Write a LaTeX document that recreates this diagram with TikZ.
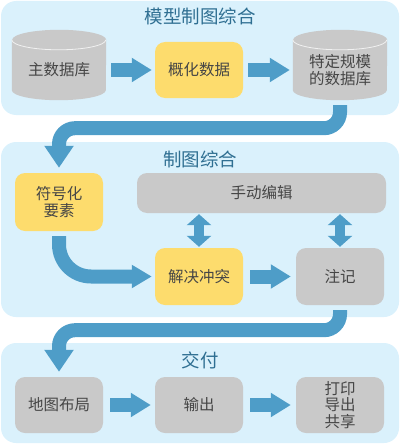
\documentclass[tikz,border=0pt]{standalone}
\usepackage{fontspec}
\setmainfont{Noto Sans CJK SC}
\usetikzlibrary{arrows.meta,calc}
\definecolor{panelblue}{HTML}{DAF1FC}
\definecolor{flowblue}{HTML}{4E9DC8}
\definecolor{boxgray}{HTML}{C9C9C9}
\definecolor{boxyellow}{HTML}{FDDC6D}
\definecolor{titleblue}{HTML}{2F6F92}
\definecolor{textgray}{HTML}{464646}
\newcommand{\dbbody}[1]{%
  \fill[boxgray] (#1.north west) -- ($(#1.south west)+(0,-10)$)
    arc[start angle=180,end angle=0,x radius=47,y radius=10]
    -- (#1.north east)
    arc[start angle=0,end angle=-180,x radius=47,y radius=10] -- cycle;
  \draw[white!75!boxgray, thick] (#1.north west)
    arc[start angle=180,end angle=0,x radius=47,y radius=10];
}

\begin{document}
\begin{tikzpicture}[x=1pt, y=-1pt,
  panel/.style={fill=panelblue, rounded corners=15pt},
  title/.style={text=titleblue, font=\fontsize{18.5}{20}\selectfont},
  box/.style={rounded corners=10pt, minimum width=88pt, minimum height=57pt,
    inner sep=0pt, align=center, text=textgray,
    font=\fontsize{15.5}{16.5}\selectfont},
  graybox/.style={box, fill=boxgray},
  yellowbox/.style={box, fill=boxyellow},
  dbnode/.style={box, minimum width=94pt, minimum height=60pt, rounded corners=0pt},
  flow/.style={draw=flowblue, line width=14pt, shorten <=5pt, shorten >=3pt,
    -{Triangle[width=23pt,length=20pt]}},
  curveflow/.style={draw=flowblue, line width=14pt, rounded corners=16pt,
    shorten <=5pt, shorten >=5pt, -{Triangle[width=28pt,length=22pt]}},
  twoway/.style={draw=flowblue, line width=10pt, shorten <=1pt, shorten >=1pt,
    {Triangle[width=24pt,length=11pt]}-{Triangle[width=24pt,length=11pt]}}]
\useasboundingbox (0,0) rectangle (400,444);

% panels
\fill[panel] (1,1) rectangle (399,115);
\fill[panel] (1,142) rectangle (399,317);
\fill[panel] (1,343) rectangle (399,443);

\node[title] (t1) at (200,16) {模型制图综合};
\node[title] (t2) at (200,159) {制图综合};
\node[title] (t3) at (200,360) {交付};

% first row
\coordinate (dbpos) at (59,70);
\coordinate (sdbpos) at (340,70);
\node[dbnode] (db) at (dbpos) {};
\node[dbnode] (sdb) at (sdbpos) {};
\dbbody{db}
\dbbody{sdb}
\node[box] (dbtext) at (db.center) {主数据库};
\node[box] (sdbtext) at (sdb.center) {特定规模\\的数据库};
\node[yellowbox, minimum height=56pt] (gen) at (199,70) {概化数据};

\draw[flow] (db.east |- gen.center) -- (gen.west);
\draw[flow] (gen.east) -- (sdb.west |- gen.center);

% second row
\node[yellowbox, minimum height=58pt] (sym) at (59,202) {符号化\\要素};
\node[graybox, minimum width=249pt, minimum height=40pt] (edit) at (261.5,193) {手动编辑};
\node[yellowbox] (resolve) at (199,276.5) {解决冲突};
\node[graybox] (anno) at (340,276.5) {注记};

\draw[curveflow] (sdb.south) -- ++(0,28) -| (sym.north);
\draw[curveflow, rounded corners=32pt, -{Triangle[width=22pt,length=20pt]}, shorten >=3pt]
  (sym.south) |- (resolve.west);
\draw[flow, shorten <=7pt, shorten >=5pt] (resolve.east) -- (anno.west);
\draw[twoway] (edit.south -| resolve.north) -- (resolve.north);
\draw[twoway] (edit.south -| anno.north) -- (anno.north);

% third row
\node[graybox, minimum height=56pt] (layout) at (59,405) {地图布局};
\node[graybox, minimum height=56pt] (output) at (199,405) {输出};
\node[graybox, minimum height=56pt] (share) at (340,405) {打印\\导出\\共享};

\draw[curveflow] (anno.south) -- ++(0,25) -| (layout.north);
\draw[flow, shorten <=7pt, shorten >=4pt] (layout.east) -- (output.west);
\draw[flow, shorten <=7pt, shorten >=5pt] (output.east) -- (share.west);

\end{tikzpicture}
\end{document}
